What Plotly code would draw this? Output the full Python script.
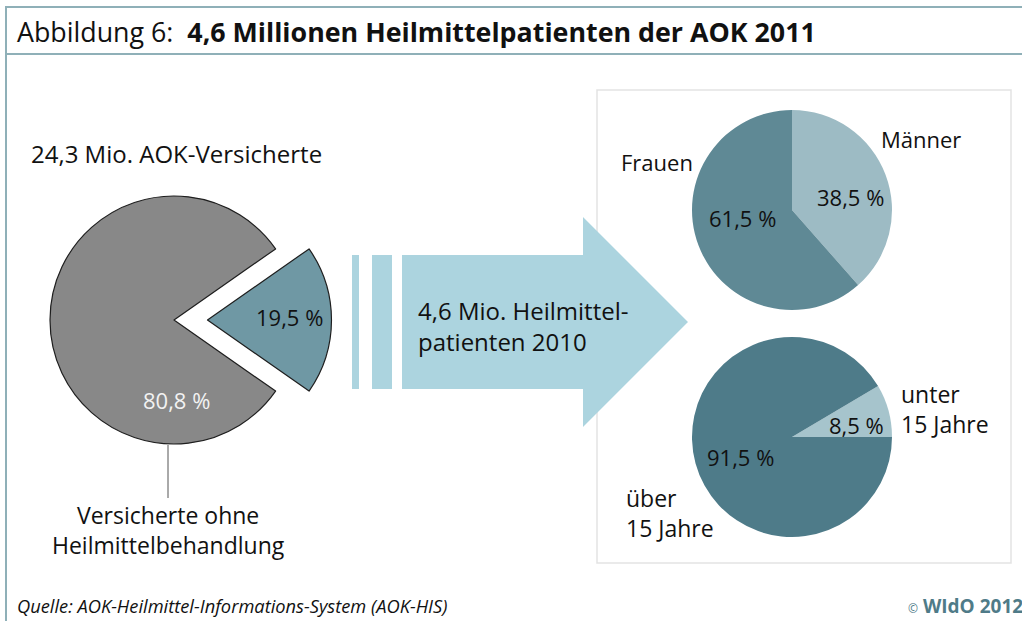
import plotly.graph_objects as go

W, H = 1022, 621

# ---------------- data ----------------
left_labels = ["Heilmittelpatienten", "Versicherte ohne Heilmittelbehandlung"]
left_values = [19.5, 80.8]
left_colors = ["#6f98a4", "#888888"]

sex_labels = ["Männer", "Frauen"]
sex_values = [38.5, 61.5]
sex_colors = ["#9dbbc4", "#5f8995"]

age_labels = ["unter 15 Jahre", "über 15 Jahre"]
age_values = [8.5, 91.5]
age_colors = ["#a6c4cc", "#4e7b89"]

title_plain = "Abbildung 6:"
title_bold = "4,6 Millionen Heilmittelpatienten der AOK 2011"
total_label = "24,3 Mio. AOK-Versicherte"
arrow_label = "4,6 Mio. Heilmittel-<br>patienten 2010"
source_text = "Quelle: AOK-Heilmittel-Informations-System (AOK-HIS)"
copyright_text = "WIdO 2012"

FONT = "Open Sans"


def fmt(v):
    return f"{v:.1f}".replace(".", ",") + " %"


def px(x):
    return x / W


def py(y):
    return 1 - y / H


def pie_domain(cx, cy, r, pull=0.0):
    half = r * (1 + pull)
    return dict(x=[px(cx - half), px(cx + half)], y=[py(cy + half), py(cy - half)])


fig = go.Figure()

# left pie (exploded slice)
left_pull = [0.27, 0]
fig.add_trace(go.Pie(
    labels=left_labels, values=left_values, sort=False, direction="clockwise",
    rotation=90 - left_values[0] / sum(left_values) * 360 / 2,
    pull=left_pull, textinfo="none", hoverinfo="label+percent",
    marker=dict(colors=left_colors, line=dict(color="#1e1e1e", width=1.2)),
    domain=pie_domain(174, 320, 124, max(left_pull)), showlegend=False,
))

# top right pie (sex)
fig.add_trace(go.Pie(
    labels=sex_labels, values=sex_values, sort=False, direction="clockwise",
    rotation=0, textinfo="none", hoverinfo="label+percent",
    marker=dict(colors=sex_colors, line=dict(width=0)),
    domain=pie_domain(792, 210, 100), showlegend=False,
))

# bottom right pie (age)
fig.add_trace(go.Pie(
    labels=age_labels, values=age_values, sort=False, direction="clockwise",
    rotation=90 - age_values[0] / sum(age_values) * 360, textinfo="none",
    hoverinfo="label+percent",
    marker=dict(colors=age_colors, line=dict(width=0)),
    domain=pie_domain(792, 437, 100), showlegend=False,
))

BORDER = "#8fb0b8"
ARROW = "#acd4df"

shapes = [
    # frame lines
    dict(type="line", x0=px(6), x1=px(W + 5), y0=py(7), y1=py(7), line=dict(color=BORDER, width=2)),
    dict(type="line", x0=px(6), x1=px(W + 5), y0=py(54), y1=py(54), line=dict(color=BORDER, width=2)),
    dict(type="line", x0=px(6), x1=px(6), y0=py(6), y1=py(H + 5), line=dict(color=BORDER, width=2)),
    # right panel
    dict(type="rect", x0=px(597), x1=px(1011), y0=py(563), y1=py(90),
         line=dict(color="#e3e3e3", width=1.5), fillcolor="white", layer="below"),
    # arrow bars
    dict(type="rect", x0=px(352), x1=px(359), y0=py(389), y1=py(255),
         line=dict(width=0), fillcolor=ARROW, layer="below"),
    dict(type="rect", x0=px(372), x1=px(392), y0=py(389), y1=py(255),
         line=dict(width=0), fillcolor=ARROW, layer="below"),
    # leader line
    dict(type="line", x0=px(168), x1=px(168), y0=py(445), y1=py(498),
         line=dict(color="#555555", width=1)),
]
arrow_pts = [(402, 255), (583, 255), (583, 217), (688, 322), (583, 427), (583, 389), (402, 389)]
path = "M " + " L ".join(f"{px(x):.5f},{py(y):.5f}" for x, y in arrow_pts) + " Z"
shapes.append(dict(type="path", path=path, line=dict(width=0), fillcolor=ARROW, layer="below"))


def ann(text, x, y, size=21, color="#111111", xanchor="center", **kw):
    return dict(text=text, x=px(x), y=py(y), xref="paper", yref="paper", showarrow=False,
                xanchor=xanchor, yanchor="middle", align="left" if xanchor == "left" else "center",
                font=dict(family=FONT, size=size, color=color), **kw)


annotations = [
    ann(f"{title_plain}  <b>{title_bold}</b>", 15, 31, size=26.8, xanchor="left"),
    ann(total_label, 29, 153, size=24, xanchor="left"),
    ann(fmt(left_values[0]), 289, 317, size=22),
    ann(fmt(left_values[1]), 176, 400, size=22, color="#f2f2f2"),
    ann("Versicherte ohne<br>Heilmittelbehandlung", 168, 530, size=23),
    ann(arrow_label, 416, 326, size=24, xanchor="left"),
    ann("Frauen", 619, 162, size=22, xanchor="left"),
    ann("Männer", 879, 139, size=22, xanchor="left"),
    ann(fmt(sex_values[0]), 850, 197, size=22),
    ann(fmt(sex_values[1]), 742, 218, size=22),
    ann("unter<br>15 Jahre", 899, 409, size=23, xanchor="left"),
    ann(fmt(age_values[0]), 856, 425, size=22),
    ann(fmt(age_values[1]), 740, 457, size=22),
    ann("über<br>15 Jahre", 624, 513, size=23, xanchor="left"),
    ann(f"<i>{source_text}</i>", 15, 605, size=18.3, xanchor="left"),
    ann(f"<span style='font-size:12px'>©</span> <b>{copyright_text}</b>", 906, 606, size=19,
        color="#4f7b88", xanchor="left"),
]

fig.update_layout(
    width=W, height=H, margin=dict(l=0, r=0, t=0, b=0),
    paper_bgcolor="white", plot_bgcolor="white",
    shapes=shapes, annotations=annotations, showlegend=False,
)

fig.write_html(
    "out.html",
    config={"displayModeBar": False},
    post_script="document.body.style.margin='0';document.body.style.overflow='hidden';",
)
